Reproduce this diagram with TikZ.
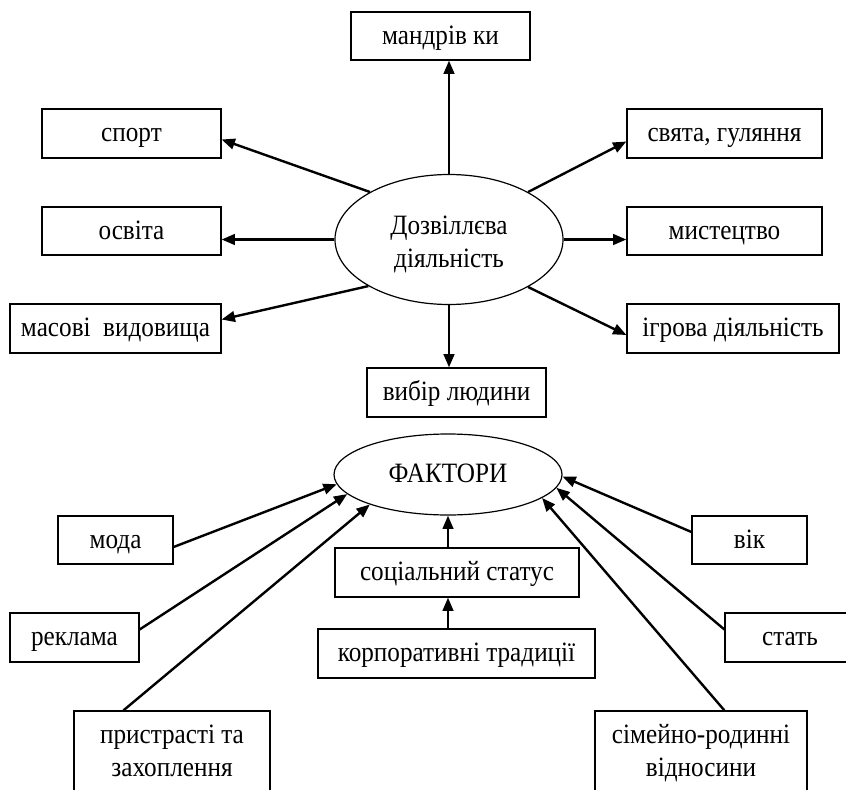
\documentclass[tikz,border=0pt]{standalone}
\usepackage{fontspec}
\setmainfont[FakeStretch=0.9]{Liberation Serif}
\usetikzlibrary{arrows.meta,shapes.geometric,calc}
\newcommand{\mybox}[7][box]{\node[#1, minimum width={(#5-#3)*0.75pt}, minimum height={(#6-#4)*0.75pt}] (#2) at ({(#3+#5)/2},{(#4+#6)/2}) {#7};}
\newcommand{\twolines}[3]{\raisebox{0pt}[#1][0pt]{\begin{tabular}{@{}c@{}}#2\\#3\end{tabular}}}
\begin{document}
\begin{tikzpicture}[x=0.75pt,y=-0.75pt,
  txt/.style={font=\fontsize{21}{24.75}\selectfont},
  box/.style={draw, line width=0.9pt, rectangle, inner sep=0pt, txt, text height=14.5pt, text depth=2.5pt},
  mbox/.style={draw, line width=0.9pt, rectangle, inner sep=0pt, txt},
  oval/.style={draw, line width=0.9pt, ellipse, inner sep=0pt, txt},
  arr/.style={line width=1.8pt, -{Triangle[length=10pt,width=8pt]}}]
\useasboundingbox (0,0) rectangle (846,789);
\clip (0,0) rectangle (846,789);
% top part
\node[oval, minimum width=171pt, minimum height=97.5pt] (dz) at (449,239.5) {\twolines{17.3pt}{Дозвіллєва}{діяльність}};
\mybox{mand}{351}{12}{530}{60}{мандрів ки}
\mybox{sport}{42}{109}{221}{158}{спорт}
\mybox{osv}{42}{207}{221}{255}{освіта}
\mybox{mas}{10}{304}{221}{353}{масові \ видовища}
\mybox{svy}{627}{109}{822}{158}{свята, гуляння}
\mybox{mist}{627}{207}{822}{255}{мистецтво}
\mybox{igr}{627}{304}{839}{353}{ігрова діяльність}
\mybox{vyb}{367}{368}{546}{417}{вибір людини}
\draw[arr] (dz.north) -- (dz.north |- mand.south);
\draw[arr] (dz.149) -- ($(sport.east)+(0,6)$);
\draw[arr] (dz.west) -- (dz.west -| osv.east);
\draw[arr] (dz.210) -- ($(mas.east)+(0,-9)$);
\draw[arr] (dz.31) -- ($(svy.west)+(0,8)$);
\draw[arr] (dz.east) -- (dz.east -| mist.west);
\draw[arr] (dz.329) -- ($(igr.west)+(0,6.5)$);
\draw[arr] (dz.south) -- (dz.south |- vyb.north);
% bottom part
\node[oval, text height=14.5pt, text depth=2.5pt, minimum width=171pt, minimum height=60.75pt] (fak) at (448,474.5) {ФАКТОРИ};
\mybox{moda}{58}{516}{173}{564}{мода}
\mybox{rek}{10}{613}{139}{662}{реклама}
\mybox[mbox]{pr}{74}{711}{270}{794}{\twolines{11.2pt}{пристрасті та}{захоплення}}
\mybox{soc}{335}{548}{579}{597}{соціальний статус}
\mybox{korp}{318}{629}{595}{678}{корпоративні традиції}
\mybox{vik}{692}{516}{807}{564}{вік}
\mybox{stat}{725}{613}{855}{662}{стать}
\mybox[mbox]{sim}{595}{711}{807}{794}{\twolines{11.2pt}{сімейно-родинні}{відносини}}
\draw[arr] ($(moda.east)+(0,7)$) -- (fak.185);
\draw[arr] ($(rek.east)+(0,-8)$) -- (fak.191);
\draw[arr] ($(pr.north west)+(50,0)$) -- (fak.201);
\draw[arr] ($(vik.west)+(0,-8)$) -- (fak.359);
\draw[arr] ($(stat.west)+(0,-8)$) -- (fak.353);
\draw[arr] ($(sim.north west)+(130,0)$) -- (fak.346.5);
\draw[arr] (fak.south |- soc.north) -- (fak.south);
\draw[arr] (fak.south |- korp.north) -- (fak.south |- soc.south);
\end{tikzpicture}
\end{document}
